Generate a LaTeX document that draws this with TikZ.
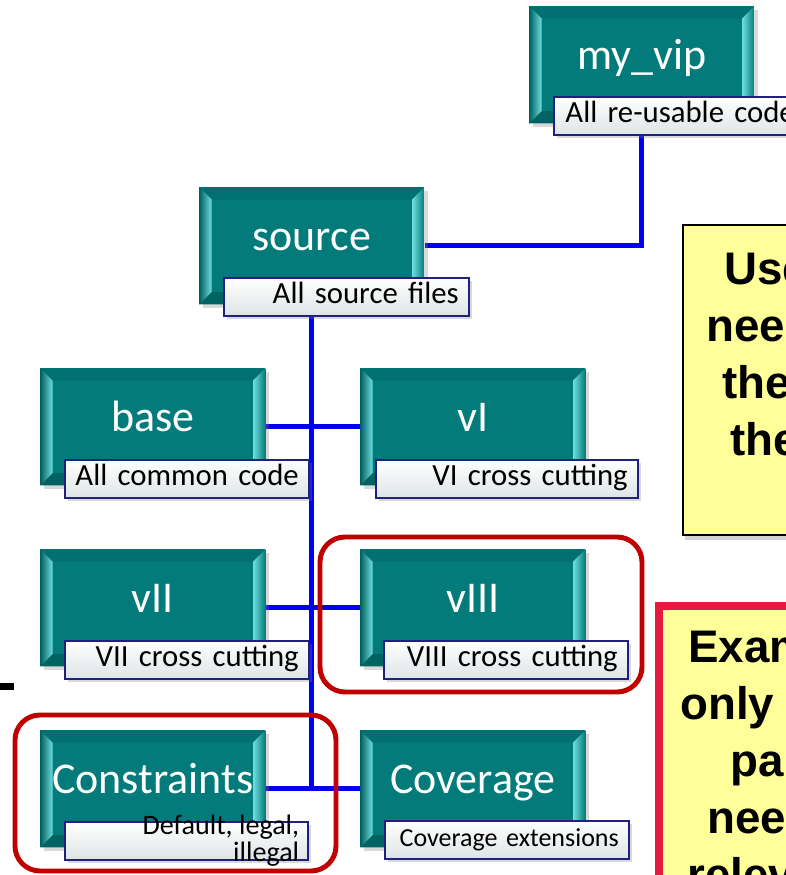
\documentclass[tikz,border=0pt]{standalone}
\usepackage{fontspec}
\setmainfont{Carlito}
\newfontfamily\notefont{Liberation Sans}
\usetikzlibrary{shadows,backgrounds}
\definecolor{modteal}{RGB}{3,123,122}
\definecolor{bevlight}{RGB}{112,222,222}
\definecolor{bevdark}{RGB}{0,98,98}
\definecolor{bevtop}{RGB}{0,112,112}
\definecolor{tagnavy}{RGB}{32,32,128}
\definecolor{taggrey}{RGB}{222,228,230}
\definecolor{linkblue}{RGB}{0,0,238}
\definecolor{grpred}{RGB}{192,0,0}
\definecolor{notered}{RGB}{228,26,64}
\definecolor{noteyellow}{RGB}{255,255,153}

\tikzset{
    modbox/.style={anchor=north west, fill=modteal, minimum width=4.5cm, minimum height=2.34cm,
        inner sep=0pt, text=white, font=\fontsize{25}{30}\selectfont,
        text height=0.7cm, text depth=0.52cm,
        drop shadow={opacity=0.3, shadow xshift=2pt, shadow yshift=-2pt},
        path picture={
            \coordinate (pa) at (path picture bounding box.north west);
            \coordinate (pb) at (path picture bounding box.north east);
            \coordinate (pc) at (path picture bounding box.south east);
            \coordinate (pd) at (path picture bounding box.south west);
            % bevelled edges
            \fill[bevtop] (pa) -- (pb) -- ([shift={(-7pt,-7pt)}]pb) -- ([shift={(7pt,-7pt)}]pa) -- cycle;
            \fill[bevdark] (pd) -- (pc) -- ([shift={(-7pt,7pt)}]pc) -- ([shift={(7pt,7pt)}]pd) -- cycle;
            \shade[left color=bevdark, right color=bevlight] (pa) -- ([shift={(7pt,-7pt)}]pa) -- ([shift={(7pt,7pt)}]pd) -- (pd) -- cycle;
            \shade[left color=bevlight, right color=modteal] (pb) -- ([shift={(-7pt,-7pt)}]pb) -- ([shift={(-7pt,7pt)}]pc) -- (pc) -- cycle;
        }},
    tagbox/.style={anchor=north west, draw=tagnavy, line width=0.9pt, top color=white, bottom color=taggrey,
        minimum height=0.76cm, inner ysep=0pt, inner xsep=0.2cm, text width=#1, align=right,
        font=\fontsize{17.5}{19}\selectfont, text height=0.4cm, text depth=0.12cm,
        drop shadow={opacity=0.3, shadow xshift=2pt, shadow yshift=-2pt}},
    tagnote/.style={inner sep=0pt, align=right, font=\fontsize{16}{15.5}\selectfont},
    link/.style={draw=linkblue, line width=2.8pt},
    grpframe/.style={draw=grpred, line width=2.8pt, rounded corners=0.5cm},
    note/.style={fill=noteyellow, draw=black, line width=1.1pt,
        drop shadow={opacity=0.35, shadow xshift=1pt, shadow yshift=-3pt}},
    notetext/.style={anchor=base west, inner sep=0pt, font=\notefont\bfseries\fontsize{26}{30}\selectfont},
}

\begin{document}
\begin{tikzpicture}[x=0.02cm, y=-0.02cm]
    \useasboundingbox (0,0) rectangle (786,875);
    \clip (0,0) rectangle (786,875);

    % directory boxes
    \node[modbox] (myvip)  at (529,6)   {my\_vip};
    \node[modbox] (source) at (199,187) {source};
    \node[modbox] (base)   at (40,368)  {base};
    \node[modbox] (vI)     at (360,368) {vI};
    \node[modbox] (vII)    at (40,549)  {vII};
    \node[modbox] (vIII)   at (360,549) {vIII};
    \node[modbox] (cons)   at (40,730)  {Constraints};
    \node[modbox] (cover)  at (360,730) {Coverage};

    % captions
    \node[tagbox=4.62cm] (myvip-tag)  at (553,96)  {All re-usable code};
    \node[tagbox=4.5cm]  (source-tag) at (223,277) {All source files};
    \node[tagbox=4.48cm] (base-tag)   at (64,459)  {All common code};
    \node[tagbox=4.84cm] (vI-tag)     at (375,459) {VI cross cutting};
    \node[tagbox=4.48cm] (vII-tag)    at (64,640)  {VII cross cutting};
    \node[tagbox=4.48cm] (vIII-tag)   at (383,640) {VIII cross cutting};
    \node[tagbox=4.46cm] (cons-tag)   at (64,821)  {};
    \node[tagnote, anchor=east] (cons-note) at ([xshift=-0.18cm]cons-tag.east) {Default, legal,\\illegal};
    \node[tagbox=4.48cm, font=\fontsize{14.8}{18}\selectfont] (cover-tag) at (384,820) {Coverage extensions};

    \begin{scope}[on background layer]
        \draw[link] (source.east) -| (myvip.south);
        \draw[link] (source.south) |- (cons.east);
        \draw[link] (base.east) -- (vI.west);
        \draw[link] (vII.east) -- (vIII.west);
        \draw[link] (cons.east) -- (cover.west);
    \end{scope}

    % highlighted groups
    \draw[grpframe] (320,537) rectangle (642,692);
    \draw[grpframe] (15,715) rectangle (336,871);

    % side notes
    \draw[note] (683,225) rectangle (840,535);
    \foreach \tx/\ty/\word [count=\i] in {724/284/Use, 706/341/nee, 722/398/the, 730/455/the}
        \node[notetext] (use\i) at (\tx,\ty) {\word};
    \draw[note, draw=notered, line width=4pt] (659,606) rectangle (840,930);
    \foreach \tx/\ty/\word [count=\i] in {688/662/Exam, 680/719/only, 730/776/pa, 707/833/nee, 687/890/relev}
        \node[notetext] (ex\i) at (\tx,\ty) {\word};

    \fill (0,683) rectangle (14,690);
\end{tikzpicture}
\end{document}
